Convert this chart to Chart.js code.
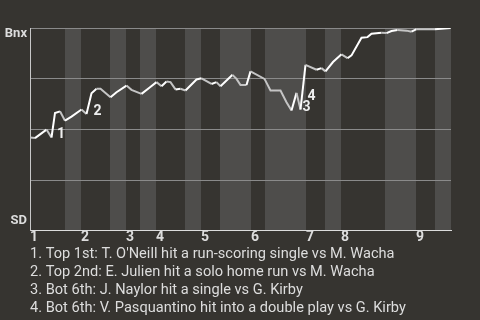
<!DOCTYPE html>
<html>
<head>
<meta charset="utf-8">
<script src="https://cdn.jsdelivr.net/npm/chart.js@4.4.1/dist/chart.umd.min.js"></script>
<style>
  html, body { margin: 0; padding: 0; background: #363430; }
  canvas { display: block; }
</style>
</head>
<body>
<canvas id="wpChart" width="480" height="320"></canvas>
<script>
        // Datos del partido (posicion del evento, % de victoria de Bnx)
        const inningLabels = ['1', '2', '3', '4', '5', '6', '7', '8', '9'];
        const halfStarts = [0, 7, 10.2, 16, 19.2, 22, 25.2, 31, 34.2, 38, 44.2, 47, 55.2, 59, 62.2, 71, 77.2, 81];
        const lastEvent = 84.2;
        const sideLabels = ['Bnx', 'SD'];

        const eventX = [0, 1, 3.3, 4.3, 5, 6, 7, 8.3, 10.3, 11.3, 12.3, 13.3, 14.1, 16.1, 17.3, 19.3, 20.3, 22.3, 24,
            25.3, 26.3, 27.3, 28.1, 29.1, 30.1, 31.1, 33.3, 34.3, 36.3, 37.3, 38.1, 40.5, 41.3, 42.1, 43.3, 44.1,
            46.9, 48.1, 50.1, 51.3, 52.3, 53.3, 54.1, 55.1, 57.3, 58.3, 59.1, 60.6, 62.3, 63.5, 64.3, 66.3, 67.5,
            68.3, 70.3, 71.3, 72.3, 73.5, 75.3, 76.3, 77.3, 81, 84.1];
        const winPct = [46.0, 45.7, 49.9, 46.0, 58.1, 58.9, 54.3, 56.3, 59.8, 57.6, 67.8, 70.0, 70.0, 65.8, 68.3, 71.6,
            69.5, 67.5, 70.8, 73.3, 71.3, 73.6, 73.3, 69.7, 70.0, 69.2, 74.6, 75.2, 72.4, 73.3, 71.3, 76.9, 74.9,
            71.9, 71.9, 78.6, 74.9, 69.2, 69.2, 63.4, 59.3, 68.0, 59.8, 81.8, 79.4, 80.2, 78.6, 83.2, 87.0, 85.1,
            86.5, 95.2, 95.5, 97.2, 97.7, 97.5, 98.5, 99.0, 98.7, 98.2, 99.4, 99.4, 100];

        const noteIndex = [4, 10, 42, 43];
        const noteText = [
            "1. Top 1st: T. O'Neill hit a run-scoring single vs M. Wacha",
            '2. Top 2nd: E. Julien hit a solo home run vs M. Wacha',
            '3. Bot 6th: J. Naylor hit a single vs G. Kirby',
            '4. Bot 6th: V. Pasquantino hit into a double play vs G. Kirby'
        ];

        Chart.defaults.font.family = 'Roboto';

        // Fondo, franjas de cada mitad de entrada y etiquetas
        const gamePlugin = {
            id: 'game',
            beforeDraw(chart) {
                const { ctx, chartArea: a, scales: { x } } = chart;
                ctx.save();
                ctx.fillStyle = '#363430';
                ctx.fillRect(0, 0, chart.width, chart.height);
                ctx.fillStyle = '#4e4d4b';
                for (let i = 1; i < halfStarts.length; i += 2) {
                    const end = i + 1 < halfStarts.length ? halfStarts[i + 1] : lastEvent;
                    const x0 = x.getPixelForValue(halfStarts[i]);
                    const x1 = x.getPixelForValue(end);
                    ctx.fillRect(x0, a.top, x1 - x0, a.bottom - a.top);
                }
                ctx.restore();
            },
            afterDatasetsDraw(chart) {
                const { ctx } = chart;
                const pts = chart.getDatasetMeta(0).data;
                ctx.save();
                ctx.font = 'bold 14px Roboto';
                ctx.fillStyle = '#eeeeee';
                ctx.textAlign = 'left';
                ctx.textBaseline = 'alphabetic';
                const placed = [];
                noteIndex.forEach((idx, n) => {
                    const p = pts[idx];
                    const prev = pts[idx - 1];
                    const tx = p.x + 2;
                    let ty = Math.max(p.y, prev.y) + 1;
                    placed.forEach(q => {
                        if (Math.abs(q.x - tx) < 9 && Math.abs(q.y - ty) < 11) ty = q.y - 11;
                    });
                    placed.push({ x: tx, y: ty });
                    ctx.fillText(String(n + 1), tx, ty);
                });
                ctx.restore();
            },
            afterDraw(chart) {
                const { ctx, chartArea: a } = chart;
                ctx.save();
                ctx.font = 'bold 13px Roboto';
                ctx.fillStyle = '#dddddd';
                ctx.textAlign = 'right';
                ctx.textBaseline = 'middle';
                ctx.fillText(sideLabels[0], a.left - 3, a.top + 6);
                ctx.fillText(sideLabels[1], a.left - 3, a.bottom - 10);
                ctx.restore();
            }
        };

        const ctx = document.getElementById('wpChart').getContext('2d');
        new Chart(ctx, {
            type: 'line',
            data: {
                datasets: [{
                    data: eventX.map((v, i) => ({ x: v, y: winPct[i] })),
                    borderWidth: 2,
                    pointRadius: 0,
                    tension: 0,
                    fill: false,
                    segment: {
                        borderColor: c => c.p1.parsed.y > c.p0.parsed.y ? '#ffffff' : '#c4c4c4'
                    }
                }]
            },
            options: {
                responsive: false,
                animation: false,
                layout: {
                    padding: { top: 28, left: 30, right: 29, bottom: 0 }
                },
                scales: {
                    x: {
                        type: 'linear',
                        min: 0,
                        max: lastEvent,
                        afterBuildTicks: scale => {
                            scale.ticks = halfStarts.filter((v, i) => i % 2 === 0).map(v => ({ value: v }));
                        },
                        ticks: {
                            callback: (value, index) => inningLabels[index],
                            autoSkip: false,
                            maxRotation: 0,
                            align: 'start',
                            padding: 0,
                            color: '#dddddd',
                            font: { size: 14, weight: 'bold', lineHeight: 1 }
                        },
                        grid: { display: false, drawTicks: false },
                        border: { color: '#dcdcdc', width: 1 }
                    },
                    y: {
                        min: 0,
                        max: 100,
                        ticks: { display: false, stepSize: 25 },
                        grid: { color: '#8a8a8a', drawTicks: false },
                        border: { color: '#c8c8c8', width: 1 }
                    }
                },
                plugins: {
                    legend: { display: false },
                    tooltip: { enabled: false },
                    title: {
                        display: true,
                        position: 'bottom',
                        align: 'start',
                        text: noteText,
                        color: '#dddddd',
                        font: { size: 14.6, weight: 'normal', lineHeight: 1.22 },
                        padding: { top: 1, bottom: 3 }
                    }
                }
            },
            plugins: [gamePlugin]
        });
</script>
</body>
</html>
